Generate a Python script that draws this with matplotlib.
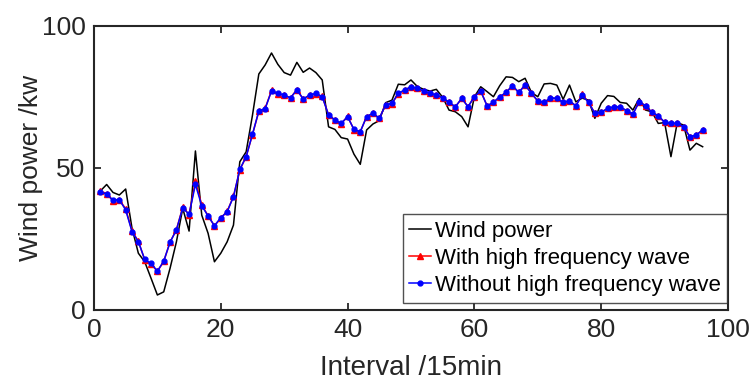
import matplotlib
matplotlib.use("Agg")
import matplotlib.pyplot as plt
import numpy as np

# interval index (15 min steps)
intervals = list(range(1, 97))

# measured wind power (kw)
wind_power = [41.8, 44.1, 41.3, 40.4, 42.5, 28.7, 19.9, 16.9, 11.1, 5.2,
              6.3, 14.6, 23.9, 35.7, 27.7, 55.9, 33.3, 26.9, 16.9, 19.9,
              23.9, 29.8, 52.1, 55.6, 68.5, 83.0, 86.2, 90.4, 86.4, 83.5,
              82.6, 87.1, 83.6, 85.1, 83.5, 80.9, 64.4, 63.5, 60.6, 60.1,
              54.8, 51.2, 63.3, 65.4, 66.6, 72.9, 73.8, 79.4, 79.2, 80.9,
              78.6, 77.6, 77.0, 77.6, 74.8, 70.3, 69.7, 68.0, 64.4, 75.0,
              78.5, 76.8, 75.0, 78.9, 82.0, 81.8, 80.3, 81.5, 76.5, 75.0,
              79.5, 79.7, 79.1, 74.1, 79.1, 73.2, 74.5, 73.8, 67.4, 72.7,
              75.4, 75.1, 73.0, 72.7, 70.3, 74.4, 70.3, 69.7, 65.6, 65.9,
              53.9, 65.9, 65.0, 56.2, 58.6, 57.4]

# smoothed series, with high frequency component
with_hf = [41.8, 40.9, 38.4, 38.6, 35.6, 27.7, 24.1, 17.6, 16.2, 13.5,
           17.0, 23.8, 28.2, 36.1, 33.5, 45.3, 36.9, 33.1, 29.5, 32.3,
           34.6, 39.9, 49.2, 53.9, 61.7, 69.8, 70.9, 77.2, 76.1, 75.5,
           74.6, 77.5, 74.2, 75.5, 76.0, 75.1, 68.6, 66.8, 65.5, 68.1,
           63.4, 62.6, 68.0, 69.2, 67.4, 72.1, 72.6, 76.0, 77.4, 78.4,
           77.9, 77.0, 76.2, 75.6, 74.7, 73.0, 71.4, 74.4, 71.5, 75.0,
           77.0, 71.8, 73.0, 75.0, 76.5, 78.9, 76.5, 79.2, 76.2, 73.5,
           73.0, 74.6, 74.4, 73.0, 73.6, 71.8, 75.8, 73.0, 69.2, 69.5,
           70.9, 71.4, 71.4, 70.1, 68.9, 73.3, 71.8, 69.5, 68.3, 66.0,
           65.6, 65.6, 64.4, 60.8, 61.5, 63.4]

# smoothed series, high frequency component removed
without_hf = [41.5, 40.7, 38.6, 38.8, 35.1, 27.5, 24.0, 17.7, 16.3, 13.6,
              17.1, 23.8, 28.1, 35.9, 33.6, 44.1, 36.6, 33.0, 29.6, 32.4,
              34.5, 39.8, 49.4, 53.9, 61.8, 70.0, 70.8, 77.0, 76.2, 75.6,
              74.6, 77.4, 74.2, 75.6, 76.2, 75.0, 68.6, 66.8, 65.6, 68.0,
              63.5, 62.7, 68.0, 69.2, 67.4, 72.1, 72.7, 76.2, 77.4, 78.5,
              78.0, 77.0, 76.2, 75.6, 74.6, 73.0, 71.5, 74.4, 71.5, 75.0,
              77.0, 71.8, 73.0, 75.0, 76.5, 78.9, 76.5, 79.1, 76.2, 73.5,
              73.0, 74.6, 74.4, 73.0, 73.5, 71.8, 75.6, 73.0, 69.2, 69.5,
              70.9, 71.4, 71.4, 70.1, 68.9, 73.2, 71.8, 69.5, 68.3, 66.0,
              65.6, 65.6, 64.4, 60.9, 61.5, 63.3]

plt.rcParams['font.family'] = ['Liberation Sans', 'DejaVu Sans']

fig = plt.figure(figsize=(7.53, 3.81), dpi=100)
ax = fig.add_axes([0.1248, 0.187, 0.842, 0.7455])

ax.plot(intervals, wind_power, color='black', linewidth=1.1, label='Wind power')
ax.plot(intervals, with_hf, color='red', linewidth=1.1, marker='^',
        markersize=4.5, label='With high frequency wave')
ax.plot(intervals, without_hf, color='blue', linewidth=1.1, marker='o',
        markersize=3.5, label='Without high frequency wave')

ax.set_xlim(0, 100)
ax.set_ylim(0, 100)
ax.set_xticks([0, 20, 40, 60, 80, 100])
ax.set_yticks([0, 50, 100])
ax.tick_params(direction='in', length=5, width=1.3, top=True, right=True,
               labelsize=19, colors='#262626', pad=6)
for s in ax.spines.values():
    s.set_linewidth(1.5)
    s.set_color('#262626')

ax.set_xlabel('Interval /15min', fontsize=20, color='#262626', labelpad=9)
ax.set_ylabel('Wind power /kw', fontsize=19, color='#262626', labelpad=-1)

leg = ax.legend(loc='lower right', bbox_to_anchor=(0.999, 0.025),
                fontsize=16, frameon=True, fancybox=False,
                edgecolor='#262626', handlelength=1.0, handletextpad=0.15,
                borderpad=0.3, labelspacing=0.28, borderaxespad=0.0)
leg.get_frame().set_linewidth(1.0)

fig.savefig('out.png', dpi=100)
